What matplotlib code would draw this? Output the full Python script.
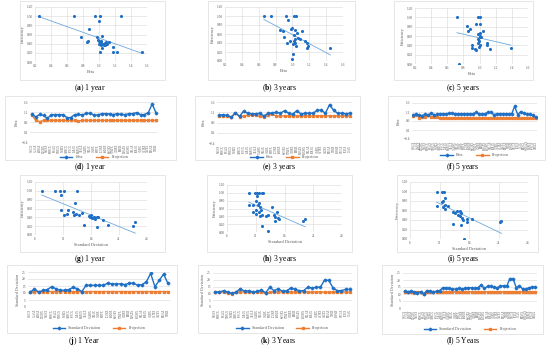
import matplotlib
matplotlib.use('Agg')
import matplotlib.pyplot as plt
import numpy as np
from matplotlib.patches import Rectangle

SERIF = 'Liberation Serif'
plt.rcParams['font.family'] = SERIF
plt.rcParams['mathtext.fontset'] = 'custom'
plt.rcParams['mathtext.rm'] = SERIF
plt.rcParams['mathtext.bf'] = SERIF + ':bold'

W, H = 550, 349
BLUE = '#1f6fc5'
TREND = '#6fa8dc'
ORANGE = '#ed7d31'
GRID = '#d9d9d9'
TICK = '#595959'

# ---- scatter data: efficiency vs beta ----
beta_1y_x = [0.25, 0.69, 0.95, 1.01, 1.27, 1.00, 0.87, 0.77, 0.85, 0.86, 0.97, 1.04,
             1.00, 1.01, 1.02, 1.03, 1.05, 1.06, 1.08, 1.10, 1.12, 0.99, 1.00, 1.03,
             1.07, 1.09, 1.01, 1.04, 1.18, 1.22, 1.18, 1.54]
beta_1y_y = [1.00, 1.00, 1.00, 1.00, 1.00, 0.90, 0.72, 0.54, 0.44, 0.45, 0.55, 0.57,
             0.45, 0.42, 0.38, 0.44, 0.40, 0.37, 0.42, 0.40, 0.43, 0.47, 0.40, 0.46,
             0.38, 0.44, 0.22, 0.30, 0.22, 0.22, 0.32, 0.21]

beta_3y_x = [0.66, 0.74, 0.92, 1.02, 1.04, 0.95, 0.99, 0.98, 0.85, 0.89, 1.03, 1.11,
             1.05, 1.02, 0.90, 1.07, 1.09, 1.03, 1.02, 0.97, 0.93, 1.03, 1.01, 1.04,
             1.15, 1.17, 1.19, 1.17, 1.01, 1.00, 1.45]
beta_3y_y = [1.00, 1.00, 1.00, 1.00, 1.00, 0.92, 0.73, 0.72, 0.69, 0.66, 0.69, 0.66,
             0.62, 0.57, 0.54, 0.52, 0.50, 0.48, 0.45, 0.45, 0.41, 0.41, 0.37, 0.34,
             0.45, 0.39, 0.34, 0.28, 0.16, 0.04, 0.28]

beta_5y_x = [0.72, 0.98, 1.00, 0.95, 1.00, 0.85, 0.88, 0.86, 1.04, 1.00, 0.98, 1.01,
             1.00, 1.02, 0.98, 0.99, 0.98, 1.00, 0.99, 0.91, 0.91, 0.94, 0.96, 1.09,
             1.09, 1.13, 1.39, 0.75]
beta_5y_y = [1.00, 1.00, 1.00, 0.86, 0.86, 0.82, 0.76, 0.70, 0.70, 0.66, 0.64, 0.61,
             0.57, 0.58, 0.54, 0.49, 0.45, 0.40, 0.36, 0.41, 0.34, 0.32, 0.31, 0.44,
             0.41, 0.32, 0.34, 0.00]

# ---- scatter data: efficiency vs standard deviation ----
sd_1y_x = [7.2, 9.6, 10.5, 11.2, 13.5, 10.7, 13.2, 10.7, 11.9, 11.2, 11.8, 12.7,
           13.0, 13.3, 13.9, 14.4, 15.6, 15.9, 16.2, 16.5, 16.8, 17.0, 17.3, 16.0,
           16.6, 14.7, 17.0, 18.2, 19.1, 23.5, 23.9]
sd_1y_y = [1.00, 1.00, 1.00, 1.00, 1.00, 0.91, 0.72, 0.57, 0.56, 0.45, 0.48, 0.51,
           0.46, 0.48, 0.45, 0.49, 0.44, 0.41, 0.38, 0.40, 0.37, 0.41, 0.40, 0.45,
           0.38, 0.23, 0.19, 0.33, 0.22, 0.20, 0.29]

sd_3y_x = [9.8, 10.9, 11.2, 11.6, 12.0, 12.2, 11.2, 9.9, 10.6, 11.0, 11.6, 11.4,
           11.8, 11.0, 10.5, 11.1, 11.6, 11.9, 11.8, 12.1, 12.7, 13.2, 13.9, 14.1,
           14.4, 14.4, 14.7, 14.8, 15.0, 12.0, 13.1, 19.3, 19.6]
sd_3y_y = [1.00, 1.00, 1.00, 1.00, 1.00, 1.00, 0.92, 0.70, 0.70, 0.78, 0.74, 0.68,
           0.64, 0.57, 0.50, 0.45, 0.52, 0.57, 0.40, 0.44, 0.42, 0.43, 0.65, 0.44,
           0.38, 0.27, 0.50, 0.36, 0.33, 0.16, 0.02, 0.27, 0.33]

sd_5y_x = [10.5, 11.5, 11.7, 11.9, 11.6, 11.4, 11.9, 12.4, 10.5, 11.6, 12.0, 13.3,
           13.6, 13.9, 14.5, 14.2, 14.5, 14.7, 14.8, 15.0, 14.6, 13.3, 15.6, 15.7,
           16.5, 15.1, 21.2, 21.5]
sd_5y_y = [1.00, 1.00, 1.00, 0.86, 0.81, 0.78, 0.72, 0.70, 0.70, 0.67, 0.63, 0.57,
           0.55, 0.58, 0.58, 0.51, 0.48, 0.55, 0.44, 0.41, 0.30, 0.31, 0.42, 0.35,
           0.42, 0.00, 0.35, 0.37]

# ---- line data ----
funds = ['VASGX', 'CLAAX', 'SHRAX', 'DODBX', 'NAESX', 'PRWCX', 'FBALX', 'VWELX',
         'TWBIX', 'AMECX', 'FPACX', 'JABAX', 'MAPOX', 'ABALX', 'OAKBX', 'VBIAX',
         'CAIBX', 'PRPFX', 'LCORX', 'FMSDX', 'SWOBX', 'VTMFX', 'GLRBX', 'BERIX',
         'MBAXX', 'PAXWX', 'HBLAX', 'JNBAX', 'AQRIX', 'CVTRX', 'GATEX', 'RPGAX',
         'TRRIX', 'FASMX', 'VSCGX', 'PCBIX', 'IGIAX', 'BKMIX', 'WBALX', 'MERFX',
         'FFNOX', 'USBLX']
codes_1y = funds[:33]
codes_3y = funds[4:37]
codes_5y = funds

beta_1y = [1.00, 0.85, 0.98, 0.93, 0.78, 0.97, 0.97, 0.97, 0.97, 0.82, 0.82, 0.97,
           0.98, 0.95, 1.03, 1.03, 0.95, 0.95, 1.02, 1.02, 1.00, 0.97, 1.02, 0.98,
           0.97, 1.02, 1.02, 1.07, 0.97, 0.97, 1.07, 1.50, 1.05]
proj_1y = [0.95, 0.68, 0.62, 0.68, 0.68, 0.68, 0.68, 0.68, 0.68, 0.68, 0.68, 0.68,
           0.65, 0.68, 0.68, 0.68, 0.68, 0.68, 0.68, 0.68, 0.68, 0.68, 0.68, 0.68,
           0.68, 0.68, 0.68, 0.68, 0.68, 0.68, 0.68, 0.68, 0.68]

beta_3y = [0.95, 0.98, 0.95, 0.85, 1.08, 0.90, 1.15, 1.05, 1.03, 1.03, 1.05, 0.92,
           1.05, 1.07, 1.10, 1.05, 1.18, 1.05, 1.00, 1.18, 1.02, 1.05, 1.05, 1.05,
           1.20, 1.20, 1.05, 1.47, 1.20, 1.05, 1.05, 1.03, 1.05]
proj_3y = [0.92, 0.92, 0.92, 0.85, 1.08, 0.88, 0.92, 0.95, 0.95, 0.95, 0.90, 0.88,
           0.95, 1.00, 0.92, 0.92, 0.92, 0.92, 0.92, 0.92, 0.92, 0.92, 0.92, 0.92,
           0.92, 0.92, 0.92, 0.92, 0.92, 0.92, 0.92, 0.92, 0.92]

beta_5y = [0.95, 0.98, 0.92, 0.90, 0.98, 0.92, 1.05, 0.92, 0.97, 1.00, 1.00, 0.98,
           1.02, 1.02, 1.00, 1.00, 1.00, 1.00, 1.00, 1.00, 1.00, 1.08, 1.00, 0.97,
           1.00, 1.08, 1.08, 0.95, 1.00, 1.00, 1.00, 1.00, 1.00, 1.00, 1.42, 0.95,
           1.12, 1.02, 0.97, 0.97, 0.92, 0.82]
proj_5y = [0.88, 0.92, 0.78, 0.82, 0.80, 0.92, 0.80, 0.82, 0.85, 0.75, 0.75, 0.75,
           0.75, 0.75, 0.75, 0.75, 0.75, 0.75, 0.75, 0.75, 0.75, 0.75, 0.75, 0.75,
           0.75, 0.75, 0.75, 0.75, 0.75, 0.75, 0.75, 0.75, 0.75, 0.75, 0.75, 0.75,
           0.75, 0.75, 0.75, 0.75, 0.75, 0.75]

sd_1y = [10.5, 13.0, 10.5, 12.0, 12.5, 14.5, 13.0, 12.0, 12.0, 12.5, 14.0, 13.0,
         11.0, 15.5, 15.5, 15.5, 15.5, 15.5, 17.0, 16.5, 16.5, 16.5, 16.0, 17.0,
         17.0, 15.5, 16.0, 18.0, 24.0, 14.5, 19.0, 23.5, 17.0]
sdproj_1y = [10.5, 11.0, 11.0, 11.0, 11.0, 11.0, 11.0, 11.0, 11.0, 11.0, 11.0, 11.0,
             11.0, 11.0, 11.0, 11.0, 11.0, 11.0, 11.0, 11.0, 11.0, 11.0, 11.0, 11.0,
             11.0, 11.0, 11.0, 11.0, 11.0, 11.0, 11.0, 11.0, 11.0]

sd_3y = [11.0, 11.0, 12.0, 11.0, 10.0, 11.0, 13.5, 11.5, 12.0, 11.0, 11.5, 12.5,
         10.5, 14.5, 12.0, 13.5, 11.5, 12.0, 14.0, 13.0, 12.0, 12.0, 14.5, 14.0,
         14.5, 14.5, 20.0, 19.5, 14.0, 12.0, 12.0, 13.0, 13.0]
sdproj_3y = [11.0, 11.0, 11.0, 10.5, 9.5, 11.0, 11.0, 11.0, 11.0, 11.0, 11.0, 11.0,
             10.0, 11.0, 11.0, 11.0, 11.0, 11.0, 11.0, 11.0, 11.0, 11.0, 11.0, 11.0,
             11.0, 11.0, 11.0, 11.0, 11.0, 11.0, 11.0, 11.0, 11.0]

sd_5y = [12.0, 11.5, 12.0, 11.5, 11.0, 11.5, 10.0, 12.5, 12.0, 11.5, 12.0, 12.5,
         14.5, 14.5, 14.0, 13.5, 13.5, 14.0, 13.5, 14.0, 14.5, 14.5, 14.0, 14.5,
         16.5, 14.0, 15.5, 15.5, 15.0, 14.5, 15.5, 16.0, 15.5, 21.0, 21.0, 14.5,
         16.0, 13.5, 13.5, 14.5, 15.0, 15.0]
sdproj_5y = [11.5, 11.5, 11.5, 11.0, 11.5, 11.5, 10.0, 11.5, 11.5, 11.5, 11.5, 11.5,
             11.5, 11.5, 11.5, 11.5, 11.5, 11.5, 11.5, 11.5, 11.5, 11.5, 11.5, 11.5,
             11.5, 11.5, 11.5, 11.5, 11.5, 11.5, 11.5, 11.5, 11.5, 11.5, 11.5, 11.5,
             11.5, 11.5, 11.5, 11.5, 11.5, 11.5]

fig = plt.figure(figsize=(W / 100, H / 100), dpi=100)


def px_axes(x0, y0, x1, y1):
    return fig.add_axes([x0 / W, 1 - y1 / H, (x1 - x0) / W, (y1 - y0) / H])


def chart_box(x0, y0, x1, y1):
    fig.patches.append(Rectangle((x0 / W, 1 - y1 / H), (x1 - x0) / W, (y1 - y0) / H,
                                 transform=fig.transFigure, fill=False,
                                 edgecolor='#dcdcdc', linewidth=0.5))


def caption(xc, y, letter, text):
    fig.text(xc / W, 1 - y / H, r'($\mathbf{%s}$) %s' % (letter, text),
             fontsize=5.5, ha='center', va='center')


def style(ax):
    for s in ax.spines.values():
        s.set_visible(False)
    ax.tick_params(length=0, labelsize=2.6, labelcolor=TICK, pad=1.5)
    ax.set_axisbelow(True)


def scatter_panel(box, x, y, xlim, xticks, xlabel):
    ax = px_axes(*box)
    style(ax)
    ax.scatter(x, y, s=5, color=BLUE, linewidths=0, zorder=3)
    # excel-style linear trendline
    k, b = np.polyfit(x, y, 1)
    xs = np.array([min(x), max(x)])
    ax.plot(xs, k * xs + b, color=TREND, lw=0.6, zorder=2)
    ax.set_xlim(*xlim)
    ax.set_ylim(0, 1.2)
    ax.set_xticks(xticks)
    ax.set_yticks(np.arange(0, 1.21, 0.2))
    ax.yaxis.set_major_formatter(matplotlib.ticker.FormatStrFormatter('%.2f'))
    ax.grid(True, color=GRID, lw=0.4)
    ax.set_xlabel(xlabel, fontsize=3.2, color=TICK, labelpad=1.5)
    ax.set_ylabel('Efficiency', fontsize=3.2, color=TICK, labelpad=1.5)
    return ax


def line_panel(box, codes, main, proj, main_label, ylim, yticks, leg_y):
    ax = px_axes(*box)
    style(ax)
    idx = np.arange(len(codes))
    ax.plot(idx, main, color=BLUE, lw=1.0, marker='D', ms=1.4, label=main_label, zorder=3)
    ax.plot(idx, proj, color=ORANGE, lw=1.0, marker='s', ms=1.4, label='Projection', zorder=2)
    ax.set_xlim(-0.5, len(codes) - 0.5)
    ax.set_ylim(*ylim)
    ax.set_yticks(yticks)
    ax.set_xticks(idx)
    ax.set_xticklabels(codes, rotation=90, fontsize=1.8)
    ax.grid(True, axis='y', color=GRID, lw=0.4)
    ax.set_ylabel(main_label, fontsize=3.0, color=TICK, labelpad=1.5)
    ax.legend(loc='center', bbox_to_anchor=(0.5, 1 - (leg_y - box[1]) / (box[3] - box[1])),
              ncol=2, fontsize=3.0, frameon=False, handlelength=3, columnspacing=3,
              labelcolor=TICK)
    return ax


# chart borders
for b in [(20, 1, 165, 80), (208, 1, 355, 80), (394, 1, 533, 80),
          (5, 96, 176, 160), (195, 96, 360, 160), (388, 96, 545, 160),
          (20, 175, 165, 252), (207, 175, 352, 252), (397, 175, 538, 252),
          (7, 265, 177, 333), (198, 265, 357, 333), (382, 265, 543, 334)]:
    chart_box(*b)

# row 1: efficiency vs beta
beta_ticks = [0.2, 0.4, 0.6, 0.8, 1.0, 1.2, 1.4, 1.6]
scatter_panel((35, 7, 147, 62), beta_1y_x, beta_1y_y, (0.2, 1.6), beta_ticks, 'Beta')
scatter_panel((225, 7, 343, 61), beta_3y_x, beta_3y_y, (0.2, 1.6), beta_ticks, 'Beta')
scatter_panel((415, 8, 528, 64), beta_5y_x, beta_5y_y, (0.2, 1.6), beta_ticks, 'Beta')

# row 2: beta vs projection
bt = [-0.4, 0.1, 0.6, 1.1, 1.6]
line_panel((30, 102, 158, 142), codes_1y, beta_1y, proj_1y, 'Beta', (-0.4, 1.6), bt, 157)
line_panel((217, 102, 352, 143), codes_3y, beta_3y, proj_3y, 'Beta', (-0.4, 1.6), bt, 157)
line_panel((412, 103, 537, 139), codes_5y, beta_5y, proj_5y, 'Beta', (-0.4, 1.6), bt, 155)

# row 3: efficiency vs standard deviation
sd_ticks = [6, 11, 16, 21, 26]
scatter_panel((35, 182, 147, 235), sd_1y_x, sd_1y_y, (6, 26), sd_ticks, 'Standard Deviation')
scatter_panel((227, 185, 342, 232), sd_3y_x, sd_3y_y, (6, 26), sd_ticks, 'Standard Deviation')
scatter_panel((410, 182, 528, 239), sd_5y_x, sd_5y_y, (6, 26), sd_ticks, 'Standard Deviation')

# row 4: standard deviation vs projection
st = [0, 5, 10, 15, 20, 25]
line_panel((28, 272, 170, 307), codes_1y, sd_1y, sdproj_1y, 'Standard Deviation', (0, 25), st, 328)
line_panel((213, 273, 352, 307), codes_3y, sd_3y, sdproj_3y, 'Standard Deviation', (0, 25), st, 328)
line_panel((403, 273, 537, 308), codes_5y, sd_5y, sdproj_5y, 'Standard Deviation', (0, 25), st, 329)

# captions
caps = [(90, 88, 'a', '1 year'), (279, 88, 'b', '3 years'), (463, 88, 'c', '5 years'),
        (90, 167, 'd', '1 year'), (279, 167, 'e', '3 years'), (463, 167, 'f', '5 years'),
        (90, 259, 'g', '1 year'), (279, 259, 'h', '3 years'), (463, 259, 'i', '5 years'),
        (84, 341, 'j', '1 Year'), (278, 341, 'k', '3 Years'), (463, 341, 'l', '5 Years')]
for c in caps:
    caption(*c)

fig.savefig('out.png', dpi=100)
